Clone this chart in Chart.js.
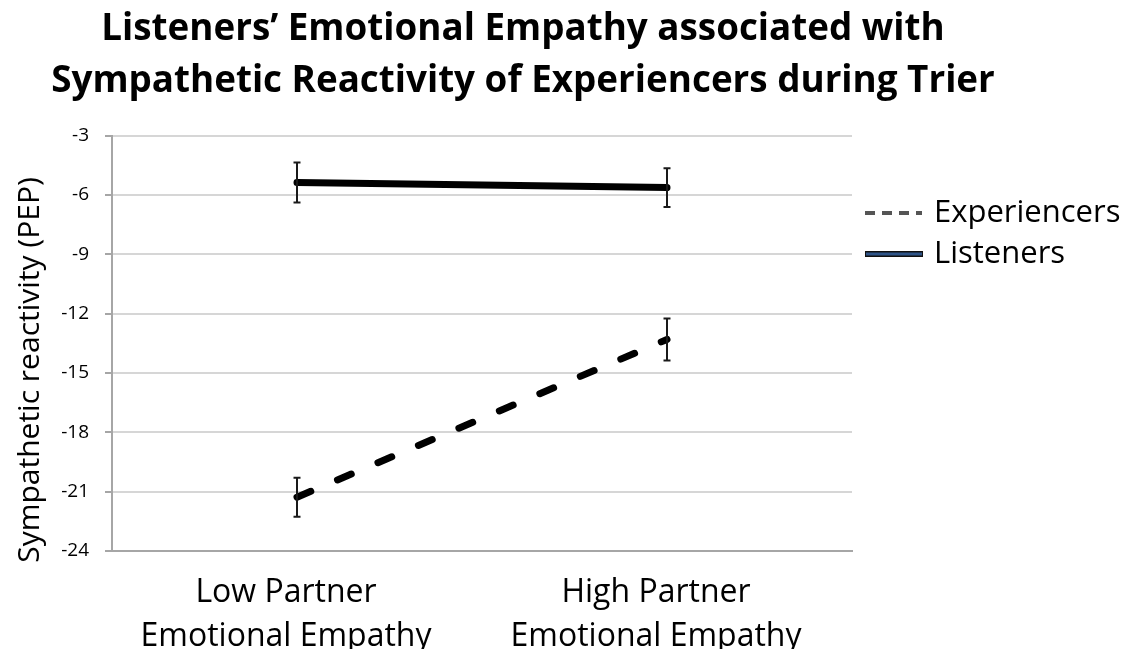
<!DOCTYPE html>
<html>
<head>
<meta charset="utf-8">
<script src="https://cdn.jsdelivr.net/npm/chart.js@4"></script>
<style>
  body { margin: 0; background: #fff; }
  #wrap { width: 1128px; height: 649px; }
</style>
</head>
<body>
<div id="wrap"><canvas id="pep-chart"></canvas></div>
<script>
var categories = [['Low Partner', 'Emotional Empathy'], ['High Partner', 'Emotional Empathy']];
var experiencers = [-21.28, -13.3];
var experiencersErr = [0.99, 1.06];
var listeners = [-5.36, -5.62];
var listenersErr = [1.01, 0.98];
var yTitle = 'Sympathetic reactivity (PEP)';
var chartTitle = ['Listeners\u2019 Emotional Empathy associated with', 'Sympathetic Reactivity of Experiencers during Trier'];

var fontFamily = "'Open Sans', 'Noto Sans', sans-serif";

// error bars, drawn from the datasets' error arrays
var errorBars = {
    id: 'errorBars',
    afterDatasetsDraw: function(chart) {
        var ctx = chart.ctx;
        var y = chart.scales.y;
        chart.data.datasets.forEach(function(ds, i) {
            var meta = chart.getDatasetMeta(i);
            meta.data.forEach(function(pt, j) {
                var top = y.getPixelForValue(ds.data[j] + ds.errors[j]);
                var bottom = y.getPixelForValue(ds.data[j] - ds.errors[j]);
                ctx.save();
                ctx.strokeStyle = '#1a1a1a';
                ctx.lineWidth = 2;
                ctx.beginPath();
                ctx.moveTo(pt.x, top);
                ctx.lineTo(pt.x, bottom);
                ctx.moveTo(pt.x - 3.5, top);
                ctx.lineTo(pt.x + 3.5, top);
                ctx.moveTo(pt.x - 3.5, bottom);
                ctx.lineTo(pt.x + 3.5, bottom);
                ctx.stroke();
                ctx.restore();
            });
        });
    }
};

// rotated y title and the legend on the right
var sideText = {
    id: 'sideText',
    afterDraw: function(chart) {
        var ctx = chart.ctx;
        var area = chart.chartArea;
        ctx.save();
        ctx.fillStyle = '#000';
        ctx.font = '30px ' + fontFamily;
        ctx.textAlign = 'center';
        ctx.textBaseline = 'middle';
        ctx.translate(30, 370);
        ctx.rotate(-Math.PI / 2);
        ctx.fillText(yTitle, 0, 0);
        ctx.restore();

        var rows = [213, 254];
        chart.data.datasets.forEach(function(ds, i) {
            var yy = rows[i];
            var x0 = area.right + 13;
            ctx.save();
            if (ds.borderDash) {
                ctx.strokeStyle = '#555';
                ctx.lineWidth = 4;
                ctx.setLineDash([10, 7]);
                ctx.beginPath();
                ctx.moveTo(x0, yy);
                ctx.lineTo(x0 + 57, yy);
                ctx.stroke();
            } else {
                ctx.fillStyle = '#111';
                ctx.fillRect(x0, yy - 3, 58, 6);
                ctx.fillStyle = '#2f5488';
                ctx.fillRect(x0 + 1, yy - 1.5, 56, 3);
            }
            ctx.fillStyle = '#000';
            ctx.font = '31px ' + fontFamily;
            ctx.textAlign = 'left';
            ctx.textBaseline = 'middle';
            ctx.fillText(ds.label, area.right + 82, yy);
            ctx.restore();
        });
    }
};

new Chart(document.getElementById('pep-chart'), {
    type: 'line',
    data: {
        labels: categories,
        datasets: [
            {
                label: 'Experiencers',
                data: experiencers,
                errors: experiencersErr,
                borderColor: '#000',
                borderWidth: 7,
                borderDash: [15, 29],
                borderCapStyle: 'round',
                pointRadius: 0,
                fill: false
            },
            {
                label: 'Listeners',
                data: listeners,
                errors: listenersErr,
                borderColor: '#000',
                borderWidth: 7,
                borderCapStyle: 'round',
                pointRadius: 0,
                fill: false
            }
        ]
    },
    options: {
        responsive: true,
        maintainAspectRatio: false,
        animation: false,
        layout: { padding: { right: 82 } },
        plugins: {
            legend: { display: false },
            tooltip: { enabled: false },
            title: {
                display: true,
                text: chartTitle,
                color: '#000',
                font: { family: fontFamily, size: 36.8, weight: 'bold', lineHeight: 1.41 },
                padding: { top: 4, bottom: 28 }
            }
        },
        scales: {
            x: {
                offset: true,
                grid: { display: false },
                border: { display: true, color: '#a6a6a6', width: 2 },
                ticks: {
                    color: '#000',
                    maxRotation: 0,
                    padding: 12,
                    labelOffset: -11,
                    font: { family: fontFamily, size: 32, lineHeight: 1.375 }
                },
                afterFit: function(scale) { scale.height = 98; }
            },
            y: {
                min: -24,
                max: -3,
                ticks: {
                    stepSize: 3,
                    color: '#000',
                    padding: 16,
                    font: { family: fontFamily, size: 19 }
                },
                grid: { color: '#d6d6d6', lineWidth: 2, tickLength: 7, tickColor: '#a6a6a6' },
                border: { display: true, color: '#a6a6a6', width: 2 },
                afterFit: function(scale) { scale.width = 112; }
            },
            // empty strip on the right that holds the legend
            side: {
                position: 'right',
                grid: { display: false },
                border: { display: false },
                ticks: { display: false },
                afterFit: function(scale) { scale.width = 194; }
            }
        }
    },
    plugins: [errorBars, sideText]
});
</script>
</body>
</html>
